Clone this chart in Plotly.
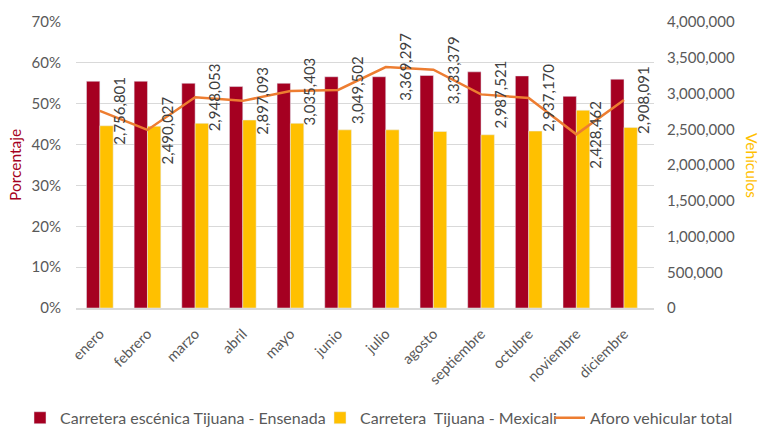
import plotly.graph_objects as go

meses = ["enero", "febrero", "marzo", "abril", "mayo", "junio", "julio",
         "agosto", "septiembre", "octubre", "noviembre", "diciembre"]

# Participación porcentual por carretera
escenica_ens = [0.555, 0.555, 0.550, 0.542, 0.550, 0.566, 0.566, 0.569, 0.578, 0.568, 0.518, 0.560]
tij_mexicali = [0.446, 0.445, 0.452, 0.460, 0.452, 0.436, 0.436, 0.432, 0.424, 0.433, 0.484, 0.442]

# Aforo vehicular total mensual
aforo_total = [2756801, 2490027, 2948053, 2897093, 3035403, 3049502,
               3369297, 3333379, 2987521, 2937170, 2428462, 2908091]

ROJO = "#A50021"
AMARILLO = "#FFC000"
NARANJA = "#ED7D31"
GRIS_TXT = "#595959"
GRIS_GRID = "#D9D9D9"
FUENTE = "Lato"

fig = go.Figure()
fig.add_trace(go.Bar(x=meses, y=escenica_ens, name="Carretera escénica Tijuana - Ensenada",
                     marker_color=ROJO, yaxis="y", legend="legend"))
fig.add_trace(go.Bar(x=meses, y=tij_mexicali, name="Carretera  Tijuana - Mexicali",
                     marker_color=AMARILLO, yaxis="y", legend="legend2"))
fig.add_trace(go.Scatter(x=meses, y=aforo_total, name="Aforo vehicular total",
                         mode="lines", line=dict(color=NARANJA, width=2.5), yaxis="y2",
                         legend="legend3"))

# Etiquetas de valor giradas junto a cada punto de la línea
for m, v in zip(meses, aforo_total):
    fig.add_annotation(x=m, y=v, yref="y2", text=f"{v:,}", textangle=-90,
                       xshift=19, showarrow=False,
                       font=dict(family=FUENTE, size=15, color="#404040"))

# Títulos de ejes
fig.add_annotation(xref="paper", yref="paper", x=-0.1055, y=0.5, text="Porcentaje",
                   textangle=-90, showarrow=False, xanchor="center",
                   font=dict(family=FUENTE, size=15.5, color=ROJO))
fig.add_annotation(xref="paper", yref="paper", x=1.1696, y=0.5, text="Vehículos",
                   textangle=90, showarrow=False, xanchor="center",
                   font=dict(family=FUENTE, size=15.5, color=AMARILLO))

leg_comun = dict(orientation="h", xref="container", yref="container", xanchor="left",
                 y=0.026, yanchor="middle", itemwidth=30, bgcolor="rgba(0,0,0,0)",
                 font=dict(family=FUENTE, size=16, color=GRIS_TXT))

fig.update_layout(
    width=761, height=429,
    margin=dict(l=76, r=107, t=18, b=121),
    paper_bgcolor="white", plot_bgcolor="white",
    font=dict(family=FUENTE, size=15, color=GRIS_TXT),
    barmode="group", bargap=0.44, bargroupgap=0,
    showlegend=True,
    legend=dict(leg_comun, x=20 / 761),
    legend2=dict(leg_comun, x=320 / 761),
    legend3=dict(leg_comun, x=550 / 761),
    xaxis=dict(tickangle=-45, showgrid=False, showline=True, linecolor=GRIS_GRID,
               linewidth=1.5, ticks="", ticklabelstandoff=10,
               tickfont=dict(family=FUENTE, size=14.5, color=GRIS_TXT)),
    yaxis=dict(range=[0, 0.7], dtick=0.1, tickformat=".0%", showgrid=True,
               gridcolor=GRIS_GRID, gridwidth=1, zeroline=False, showline=False,
               ticks="", ticklabelstandoff=14,
               tickfont=dict(family=FUENTE, size=15, color=GRIS_TXT)),
    yaxis2=dict(range=[0, 4000000], dtick=500000, tickformat=",", overlaying="y",
                side="right", showgrid=False, zeroline=False, showline=False,
                ticks="", ticklabelstandoff=12,
                tickfont=dict(family=FUENTE, size=15, color=GRIS_TXT)),
)

fig.write_html("out.html")
